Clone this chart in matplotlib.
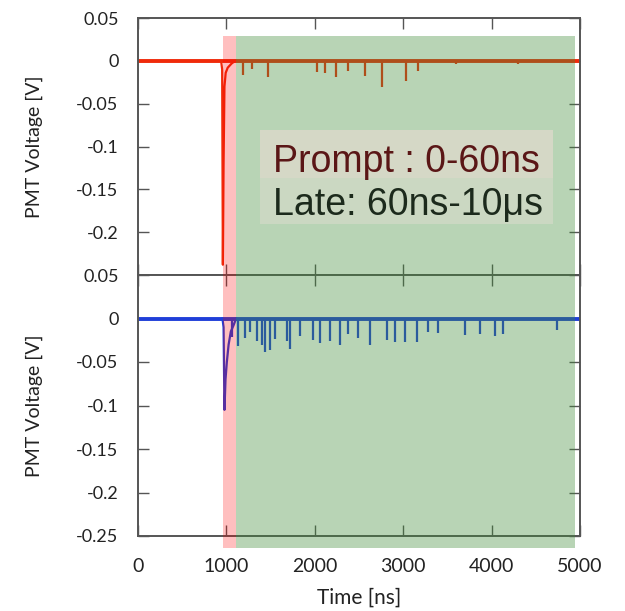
import numpy as np
import matplotlib
matplotlib.use("Agg")
import matplotlib.pyplot as plt
from matplotlib.patches import Rectangle
from matplotlib.transforms import blended_transform_factory

# values (time in ns, voltage in V)
base_t = [0, 5000]
base_v = [0.0, 0.0]

top_pulse_t = [940, 952, 960, 968, 978, 992, 1015, 1060, 1100]
top_pulse_v = [0.0, -0.01, -0.238, -0.12, -0.03, -0.014, -0.008, -0.003, 0.0]
top_spike_t = [1188, 1289, 1470, 2024, 2115, 2240, 2375, 2567, 2760, 3031, 3167, 3600, 4300]
top_spike_v = [-0.016, -0.010, -0.019, -0.013, -0.014, -0.019, -0.012, -0.018, -0.030,
               -0.024, -0.012, -0.004, -0.004]

bot_pulse_t = [955, 968, 978, 990, 1005, 1025, 1050, 1080, 1110]
bot_pulse_v = [0.0, -0.01, -0.105, -0.07, -0.05, -0.03, -0.015, -0.008, 0.0]
bot_spike_t = [1063, 1131, 1210, 1267, 1346, 1402, 1436, 1493, 1550, 1685, 1719, 1832,
               1979, 2058, 2172, 2285, 2375, 2488, 2624, 2816, 2907, 3020, 3156, 3280,
               3393, 3698, 3868, 4038, 4128, 4739]
bot_spike_v = [-0.021, -0.032, -0.022, -0.016, -0.026, -0.030, -0.038, -0.036, -0.024,
               -0.026, -0.035, -0.020, -0.025, -0.028, -0.026, -0.030, -0.018, -0.022,
               -0.030, -0.025, -0.027, -0.027, -0.027, -0.016, -0.017, -0.019, -0.018,
               -0.020, -0.018, -0.013]

prompt_win = [961, 1108]
late_win = [1108, 4943]

yticks = [0.05, 0, -0.05, -0.1, -0.15, -0.2, -0.25]
ytick_labels = ['0.05', '0', '-0.05', '-0.1', '-0.15', '-0.2', '-0.25']
xticks = [0, 1000, 2000, 3000, 4000, 5000]
xtick_labels = ['0', '1000', '2000', '3000', '4000', '5000']

W, H = 625, 611
fig = plt.figure(figsize=(W / 100, H / 100), dpi=100)

ax1 = fig.add_axes([138 / W, 1 - 275 / H, 442 / W, 257 / H])
ax2 = fig.add_axes([138 / W, 1 - 536 / H, 442 / W, 261 / H])

txt_col = '#222222'
tick_font = dict(family='Lato', size=13, color=txt_col)
frame_col = '#555555'


def draw_trace(ax, pulse_t, pulse_v, spike_t, spike_v, col):
    ax.plot(base_t, base_v, color=col, lw=2.8, solid_capstyle='butt', zorder=2)
    ax.plot(pulse_t, pulse_v, color=col, lw=1.6, zorder=3)
    ax.vlines(spike_t, 0, spike_v, color=col, lw=1.6, zorder=3)


draw_trace(ax1, top_pulse_t, top_pulse_v, top_spike_t, top_spike_v, '#f02a0a')
draw_trace(ax2, bot_pulse_t, bot_pulse_v, bot_spike_t, bot_spike_v, '#1f3fd8')

for ax in (ax1, ax2):
    ax.set_xlim(0, 5000)
    ax.set_ylim(-0.25, 0.05)
    ax.set_yticks(yticks)
    ax.set_xticks(xticks)
    ax.tick_params(direction='in', length=8, width=1, color=frame_col,
                   top=True, right=True, pad=14)
    for s in ax.spines.values():
        s.set_color(frame_col)
        s.set_linewidth(1.4)
    ax.set_ylabel('PMT Voltage [V]', family='Lato', size=14, color=txt_col)
    ax.yaxis.set_label_coords(-0.215, 0.5)

ax1.set_yticklabels(ytick_labels[:-1] + [''], **tick_font)
ax1.set_xticklabels([])
ax2.set_yticklabels(ytick_labels, **tick_font)
ax2.set_xticklabels(xtick_labels, family='Lato', size=14, color=txt_col)
ax2.tick_params(axis='x', pad=16)
ax2.set_xlabel('Time [ns]', family='Lato', size=15, color=txt_col, labelpad=9)

# shaded time windows laid over both panels
tr = blended_transform_factory(ax2.transData, fig.transFigure)
y0, y1 = 1 - 548 / H, 1 - 36 / H
fig.add_artist(Rectangle((prompt_win[0], y0), prompt_win[1] - prompt_win[0], y1 - y0,
                         transform=tr, facecolor='red', alpha=0.25, lw=0, zorder=1))
fig.add_artist(Rectangle((late_win[0], y0), late_win[1] - late_win[0], y1 - y0,
                         transform=tr, facecolor=(0.25, 0.55, 0.22), alpha=0.37, lw=0, zorder=1))

# label box
fig.add_artist(Rectangle((260 / W, 1 - 178 / H), 293 / W, 48 / H, transform=fig.transFigure,
                         facecolor='#d5d8c6', lw=0, zorder=2))
fig.add_artist(Rectangle((260 / W, 1 - 224 / H), 293 / W, 46 / H, transform=fig.transFigure,
                         facecolor='#cbd8c2', lw=0, zorder=2))
fig.text(273 / W, 1 - 172 / H, 'Prompt : 0-60ns', family='Liberation Sans', size=27,
         color='#5a1616', va='baseline', zorder=4)
fig.text(273 / W, 1 - 215 / H, 'Late: 60ns-10μs', family='Liberation Sans', size=27,
         color='#1c2a1c', va='baseline', zorder=4)

fig.savefig('out.png', dpi=100)
